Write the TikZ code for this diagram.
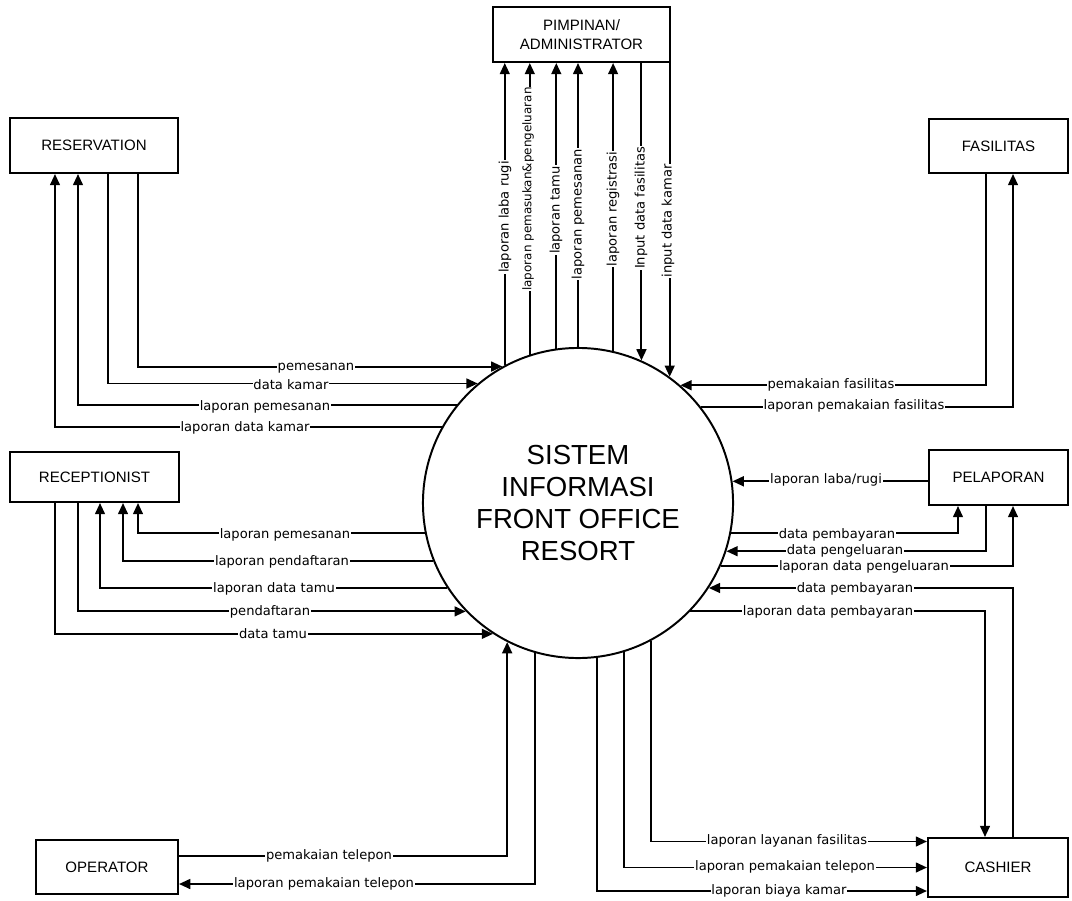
\documentclass[tikz,border=0pt]{standalone}
\usepackage{fontspec}
\setmainfont{Liberation Sans}
\newfontfamily\lblfont{DejaVu Sans}
\usetikzlibrary{arrows.meta}

\tikzset{
  entity/.style={draw, align=center, font=\fontsize{10.7}{13.5}\selectfont},
  proc/.style={draw, circle, minimum size=7.75cm, inner sep=0pt, align=center, font=\fontsize{19.6}{22.8}\selectfont},
  lbl/.style={fill=white, inner sep=0.6pt, font=\lblfont\fontsize{9.3}{10}\selectfont},
  vlbl/.style={lbl, rotate=90}
}

\begin{document}
\begin{tikzpicture}[x=0.025cm, y=-0.025cm, >={Triangle[length=8pt,width=7pt]}, line width=1.4pt]
            \useasboundingbox (0,0) rectangle (1072,901);

            % Process
            \node[proc] (Sistem) at (578,503) {SISTEM\\INFORMASI\\FRONT OFFICE\\RESORT};

            % Entities
            \node[entity, minimum width=4.425cm, minimum height=1.375cm] (Admin) at (581.5,34.5) {PIMPINAN/\\ADMINISTRATOR};
            \node[entity, minimum width=4.2cm, minimum height=1.375cm] (Reservation) at (94,145.5) {RESERVATION};
            \node[entity, minimum width=3.475cm, minimum height=1.35cm] (Fasilitas) at (998.5,146) {FASILITAS};
            \node[entity, minimum width=4.225cm, minimum height=1.25cm] (Receptionist) at (94.5,477) {RECEPTIONIST};
            \node[entity, minimum width=3.475cm, minimum height=1.375cm] (Pelaporan) at (998.5,477.5) {PELAPORAN};
            \node[entity, minimum width=3.55cm, minimum height=1.35cm] (Operator) at (107,867) {OPERATOR};
            \node[entity, minimum width=3.5cm, minimum height=1.475cm] (Cashier) at (998,867.5) {CASHIER};

            % Pimpinan / Administrator
            \foreach \a in {118.1, 108.8, 98.2, 90, 77}
            {
                \draw[->] (Sistem.\a) -- (Sistem.\a |- Admin.south);
            }
            \foreach \a in {66, 54.5}
            {
                \draw[->] (Sistem.\a |- Admin.south) -- (Sistem.\a);
            }
            \node[vlbl] (Top-1) at (505,217) {laporan laba rugi};
            \node[vlbl, font=\lblfont\fontsize{8.5}{9}\selectfont] (Top-2) at (528,189) {laporan pemasukan\&pengeluaran};
            \node[vlbl] (Top-3) at (556,210) {laporan tamu};
            \node[vlbl] (Top-4) at (578,214) {laporan pemesanan};
            \node[vlbl] (Top-5) at (613,209) {laporan registrasi};
            \node[vlbl] (Top-6) at (641,208) {Input data fasilitas};
            \node[vlbl] (Top-7) at (668,221) {input data kamar};

            % Reservation
            \draw[->] ([xshift=1.1cm]Reservation.south) |- (Sistem.119.4);
            \draw[->] ([xshift=0.35cm]Reservation.south) |- (Sistem.130.4);
            \draw[->] (Sistem.141.7) -| ([xshift=-0.4cm]Reservation.south);
            \draw[->] (Sistem.151.1) -| ([xshift=-0.975cm]Reservation.south);
            \node[lbl] (Res-1) at (316,368) {pemesanan};
            \node[lbl] (Res-2) at (291,385) {data kamar};
            \node[lbl] (Res-3) at (265,407) {laporan pemesanan};
            \node[lbl] (Res-4) at (245,428) {laporan data kamar};

            % Fasilitas
            \draw[->] ([xshift=-0.3125cm]Fasilitas.south) |- (Sistem.49.6);
            \draw[->] (Sistem.38.7) -| ([xshift=0.3625cm]Fasilitas.south);
            \node[lbl] (Fas-1) at (831,385) {pemakaian fasilitas};
            \node[lbl] (Fas-2) at (854,406) {laporan pemakaian fasilitas};

            % Receptionist
            \draw[->] (Sistem.191.9) -| ([xshift=1.0875cm]Receptionist.south);
            \draw[->] (Sistem.202.4) -| ([xshift=0.7125cm]Receptionist.south);
            \draw[->] (Sistem.213.7) -| ([xshift=0.1375cm]Receptionist.south);
            \draw[->] ([xshift=-0.4125cm]Receptionist.south) |- (Sistem.224.7);
            \draw[->] ([xshift=-0.9875cm]Receptionist.south) |- (Sistem.237.7);
            \node[lbl] (Rec-1) at (285,535) {laporan pemesanan};
            \node[lbl] (Rec-2) at (282,562) {laporan pendaftaran};
            \node[lbl] (Rec-3) at (274,589) {laporan data tamu};
            \node[lbl] (Rec-4) at (270,612) {pendaftaran};
            \node[lbl] (Rec-5) at (273,634) {data tamu};

            % Pelaporan
            \draw[->] (Pelaporan.west |- Sistem.8.5) -- (Sistem.8.5);
            \draw[->] (Sistem.-11.9) -| ([xshift=-1.0125cm]Pelaporan.south);
            \draw[->] ([xshift=-0.3125cm]Pelaporan.south) |- (Sistem.-18);
            \draw[->] (Sistem.-24.4) -| ([xshift=0.3625cm]Pelaporan.south);
            \node[lbl] (Pel-1) at (826,480) {laporan laba/rugi};
            \node[lbl] (Pel-2) at (837,535) {data pembayaran};
            \node[lbl] (Pel-3) at (845,551) {data pengeluaran};
            \node[lbl] (Pel-4) at (864,567) {laporan data pengeluaran};

            % Cashier
            \draw[->] ([xshift=0.375cm]Cashier.north) |- (Sistem.-33.7);
            \draw[->] (Sistem.-44.7) -| ([xshift=-0.325cm]Cashier.north);
            \draw[->] (Sistem.-62.3) |- ([yshift=0.65cm]Cashier.west);
            \draw[->] (Sistem.-73.1) |- (Cashier.west);
            \draw[->] (Sistem.-83.7) |- ([yshift=-0.5875cm]Cashier.west);
            \node[lbl] (Cas-1) at (855,589) {data pembayaran};
            \node[lbl] (Cas-2) at (828,612) {laporan data pembayaran};
            \node[lbl] (Cas-3) at (787,841) {laporan layanan fasilitas};
            \node[lbl] (Cas-4) at (785,867) {laporan pemakaian telepon};
            \node[lbl] (Cas-5) at (779,891) {laporan biaya kamar};

            % Operator
            \draw[->] ([yshift=0.275cm]Operator.east) -| (Sistem.-117.3);
            \draw[->] (Sistem.-106.9) |- ([yshift=-0.425cm]Operator.east);
            \node[lbl] (Op-1) at (329,856) {pemakaian telepon};
            \node[lbl] (Op-2) at (324,884) {laporan pemakaian telepon};

        \end{tikzpicture}
\end{document}
